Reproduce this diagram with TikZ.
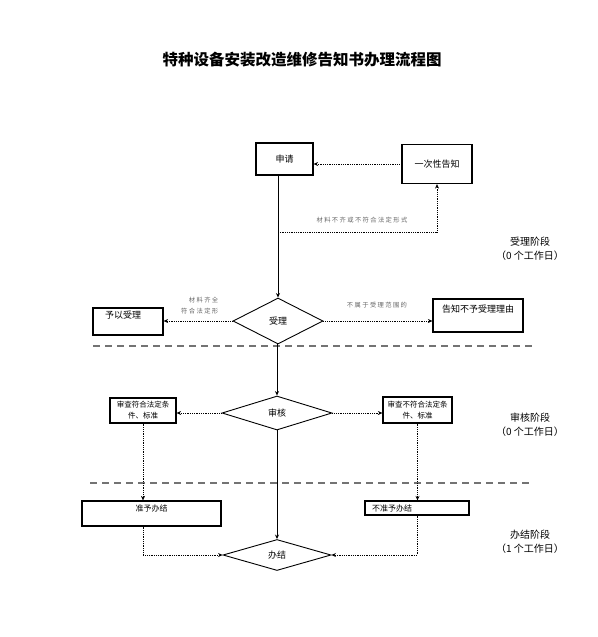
\documentclass[tikz,border=0pt]{standalone}
\usepackage{fontspec}
\setmainfont{Noto Sans CJK SC}
\usetikzlibrary{arrows.meta, shapes.geometric}

\begin{document}
\begin{tikzpicture}[x=1pt, y=-1pt, >={Stealth[length=4.5pt, width=4pt]}, line width=0.8pt,
      box/.style={draw, line width=1.2pt, inner sep=0pt, font=\fontsize{9}{10}\selectfont},
      dia/.style={draw, diamond, line width=0.9pt, inner sep=0pt, font=\fontsize{9}{10}\selectfont},
      flow/.style={->},
      note/.style={->, densely dotted},
      cond/.style={font=\fontsize{6.3}{11}\selectfont\addfontfeature{LetterSpace=22}, text=black!60, align=right},
      sep/.style={dash pattern=on 7pt off 5pt, line width=1.2pt, gray!90!black},
      stage/.style={font=\fontsize{10}{14}\selectfont, align=center}]

    % Page frame (reference proportions)
    \useasboundingbox (0,0) rectangle (597,637);

    % Title
    \node[font=\fontsize{15.5}{18}\selectfont\bfseries] (title) at (302,60) {特种设备安装改造维修告知书办理流程图};

    % --- Acceptance stage ---
    \node[box, minimum width=57pt, minimum height=32pt] (shenqing) at (284.5,159) {申请};
    \node[box, minimum width=70pt, minimum height=39pt] (gaozhi) at (437,164) {一次性告知};
    \node[dia, minimum width=90pt, minimum height=46pt] (shouli) at (278,321) {受理};
    \node[box, minimum width=70pt, minimum height=27pt, text width=46pt, align=left,
          text height=7pt, text depth=14pt] (yiyu) at (128,321.5) {予以受理};
    \node[box, minimum width=90pt, minimum height=33pt, text height=7pt, text depth=14pt] (bushu) at (478,315.5) {告知不予受理理由};

    \coordinate (buqi) at (shouli.north |- 0,232);
    \draw[flow] (shouli.north |- shenqing.south) -- (shouli.north);
    \draw[note] (gaozhi.west) -- (gaozhi.west -| shenqing.east);
    \draw[note] (buqi) -| (gaozhi.south);
    \node[cond] (lbuqi) at (362,220) {材料不齐或不符合法定形式};
    \draw[note] (shouli.west) -- (shouli.west -| yiyu.east);
    \node[cond, anchor=east] (lqiquan) at (222,306) {材料齐全\\符合法定形};
    \draw[note] (shouli.east) -- (shouli.east -| bushu.west);
    \node[cond] (lbushu) at (377,305) {不属于受理范围的};

    % Stage separator
    \coordinate (d1a) at (93,346);
    \coordinate (d1b) at (535,346);
    \draw[sep] (d1a) -- (d1b);

    % --- Review stage ---
    \node[dia, minimum width=110pt, minimum height=34pt] (shenhe) at (277,413) {审核};
    \node[box, minimum width=66pt, minimum height=25pt, align=center,
          font=\fontsize{7.5}{11}\selectfont] (fuhe) at (143,410.5) {审查符合法定条\\件、标准};
    \node[box, minimum width=69pt, minimum height=26pt, align=center,
          font=\fontsize{7.5}{11}\selectfont] (bufuhe) at (417.5,410) {审查不符合法定条\\件、标准};

    \draw[flow] (shenhe.north |- shouli.south) -- (shenhe.north);
    \draw[note] (shenhe.west) -- (shenhe.west -| fuhe.east);
    \draw[note] (shenhe.east) -- (shenhe.east -| bufuhe.west);

    % Stage separator
    \coordinate (d2a) at (90,483);
    \coordinate (d2b) at (533,483);
    \draw[sep] (d2a) -- (d2b);

    % --- Completion stage ---
    \node[box, minimum width=139pt, minimum height=25pt, text height=7pt, text depth=11pt,
          font=\fontsize{8}{10}\selectfont] (zhunyu) at (151.5,513.5) {准予办结};
    \node[box, minimum width=104pt, minimum height=14pt, text width=90pt, align=left,
          font=\fontsize{8}{10}\selectfont] (buzhun) at (417,508) {不准予办结};
    \node[dia, minimum width=108pt, minimum height=31pt] (banjie) at (277,555) {办结};

    \draw[note] (fuhe.south) -- (fuhe.south |- zhunyu.north);
    \draw[note] (bufuhe.south) -- (bufuhe.south |- buzhun.north);
    \draw[note] (fuhe.south |- zhunyu.south) |- (banjie.west);
    \draw[note] (buzhun.south) |- (banjie.east);
    \draw[flow] (shenhe.south) -- (banjie.north);

    % Stage labels (right side)
    \node[stage] (st1) at (530,249) {受理阶段\\（0 个工作日）};
    \node[stage] (st2) at (530,425) {审核阶段\\（0 个工作日）};
    \node[stage] (st3) at (530,542) {办结阶段\\（1 个工作日）};

\end{tikzpicture}
\end{document}
